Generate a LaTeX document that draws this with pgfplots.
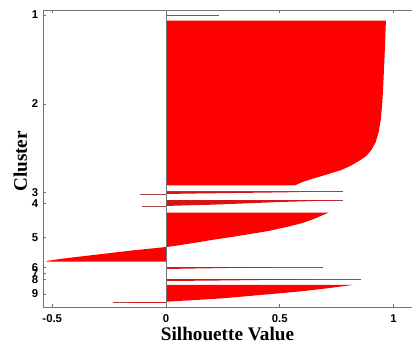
\documentclass[border=0pt]{standalone}
\usepackage{fontspec}
\setmainfont{Liberation Serif}
\newfontfamily\tickfont{Liberation Sans}
\usepackage{pgfplots}
\pgfplotsset{compat=1.18}
\definecolor{axgray}{RGB}{115,115,115}
\definecolor{barred}{RGB}{255,0,0}
\definecolor{edgered}{RGB}{165,70,70}
\definecolor{thinred}{RGB}{215,20,20}
\begin{document}
\begin{tikzpicture}
% page frame (axis box plus room for the labels)
\path[use as bounding box] (-32.25pt,-29.25pt) rectangle (276.75pt,230.25pt);
\begin{axis}[
  at={(0pt,0pt)}, anchor=south west,
  scale only axis, width=276.75pt, height=222.75pt,
  xmin=-0.5407, xmax=1.0813, ymin=10, ymax=307, y dir=reverse,
  axis x line*=box, axis y line*=left,
  axis line style={axgray, line width=0.7pt},
  tick align=inside, major tick length=2.5pt,
  tick style={axgray, line width=0.6pt},
  xtick={-0.5,0,0.5,1}, xticklabels={-0.5,0,0.5,1},
  ytick={15,104,192.7,203.3,237.3,267.3,273.3,279.3,294},
  yticklabels={1,2,3,4,5,6,7,8,9},
  ticklabel style={font=\tickfont\bfseries\fontsize{8.5}{9}\selectfont},
  xticklabel style={yshift=-2.5pt},
  xlabel={Silhouette Value}, ylabel={Cluster},
  label style={font=\bfseries\fontsize{14.4}{16}\selectfont},
  xlabel style={at={(axis description cs:0.5,-0.1135)}, anchor=base},
  ylabel style={at={(axis description cs:-0.0434,0.49)}, anchor=base},
]
% cluster 1
\addplot[edgered, line width=0.6pt] coordinates {(0,15) (0.235,15)};
% cluster 2
\addplot[fill=barred, draw=none] coordinates {
  (0,20.7) (0.967,20.7) (0.965,30) (0.962,50) (0.958,70) (0.954,90)
  (0.950,105) (0.944,120) (0.935,132) (0.922,142) (0.903,150)
  (0.88,156) (0.855,160) (0.81,166) (0.77,170) (0.70,175) (0.64,179)
  (0.60,182) (0.58,184) (0.565,185.5) (0,185.5)} -- cycle;
% cluster 3
\addplot[edgered, line width=0.6pt] coordinates {(0,191.4) (0.78,191.4)};
\addplot[fill=thinred, draw=none] coordinates {
  (0,191.6) (0.66,191.6) (0.53,192.3) (0.3,193) (0.1,193.6) (0,194)} -- cycle;
\addplot[edgered, line width=0.6pt] coordinates {(0,194.4) (-0.115,194.4)};
% cluster 4
\addplot[edgered, line width=0.6pt] coordinates {(0,200) (0.78,200)};
\addplot[fill=thinred, draw=none] coordinates {
  (0,200.2) (0.77,200.2) (0.65,201) (0.5,202) (0.35,203.4) (0.2,204.7)
  (0.05,205.6) (0,206)} -- cycle;
\addplot[edgered, line width=0.6pt] coordinates {(0,206.7) (-0.107,206.7)};
% cluster 5
\addplot[fill=barred, draw=none] coordinates {
  (0,212.7) (0.715,212.7) (0.69,215) (0.65,219) (0.60,223) (0.53,227)
  (0.45,231) (0.37,234) (0.296,236.7) (0.2,240) (0.12,243) (0.05,245.5)
  (0.01,246.8) (0,247)} -- cycle;
\addplot[fill=barred, draw=none] coordinates {
  (0,247) (-0.02,247.5) (-0.15,250.5) (-0.3,254.5) (-0.45,258.5)
  (-0.526,261) (-0.526,261.7) (0,261.7)} -- cycle;
% cluster 6
\addplot[edgered, line width=0.6pt] coordinates {(0,267) (0.69,267)};
\addplot[fill=thinred, draw=none] coordinates {
  (0,267.2) (0.47,267.2) (0.3,267.9) (0.1,268.6) (0,269)} -- cycle;
% cluster 8
\addplot[edgered, line width=0.6pt] coordinates {(0,279) (0.855,279)};
\addplot[fill=thinred, draw=none] coordinates {
  (0,279.2) (0.66,279.2) (0.45,279.9) (0.2,280.6) (0,281)} -- cycle;
% cluster 9
\addplot[fill=barred, draw=none] coordinates {
  (0,285) (0.82,285) (0.77,286.5) (0.71,288.3) (0.645,290) (0.576,291.7)
  (0.5,293.3) (0.414,295) (0.33,296.7) (0.25,298.3) (0.16,299.6)
  (0.076,300.7) (0,301.7)} -- cycle;
\addplot[edgered, line width=0.6pt] coordinates {(0,302.8) (-0.232,302.8)};
\addplot[thinred, line width=0.9pt] coordinates {(0,302.7) (-0.16,302.7)};
% zero baseline
\addplot[axgray, line width=0.6pt] coordinates {(0,10) (0,307)};
\end{axis}
\end{tikzpicture}
\end{document}
